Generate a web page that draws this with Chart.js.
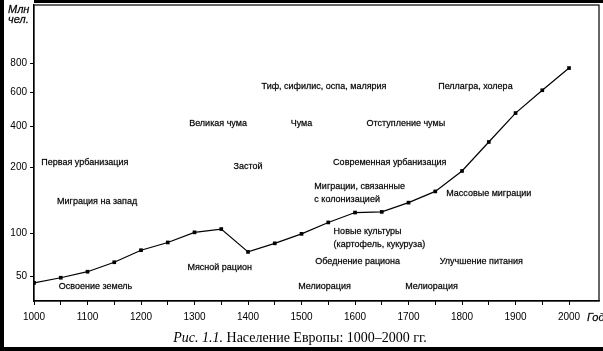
<!DOCTYPE html>
<html>
<head>
<meta charset="utf-8">
<script src="https://cdn.jsdelivr.net/npm/chart.js@4.4.0/dist/chart.umd.min.js"></script>
<style>
  html, body { margin: 0; padding: 0; background: #fff; }
  #wrap { position: relative; width: 603px; height: 351px; }
</style>
</head>
<body>
<div id="wrap"><canvas id="chart" width="603" height="351"></canvas></div>
<script>
// население Европы, млн чел.
var years = [1000, 1050, 1100, 1150, 1200, 1250, 1300, 1350, 1400, 1450, 1500,
             1550, 1600, 1650, 1700, 1750, 1800, 1850, 1900, 1950, 2000];
var population = [42, 48, 55, 66, 80, 89, 101, 106, 78, 88, 99,
                  116, 131, 132, 146, 163, 194, 322, 476, 612, 765];

// подписи оси Y и их место на неравномерной шкале
var yTicks = [50, 100, 200, 400, 600, 800];
var yTickPos = [25, 68, 134, 175, 209, 238];
var xTicks = [];
for (var t = 1000; t <= 2000; t += 50) xTicks.push(t);

// подписи на поле графика: текст, год, значение, выравнивание
var notes = [
  ["Первая урбанизация", 1095, 220, "center"],
  ["Миграция на запад", 1118, 148, "center"],
  ["Освоение земель", 1115, 38, "center"],
  ["Великая чума", 1344, 412, "center"],
  ["Тиф, сифилис, оспа, малярия", 1542, 635, "center"],
  ["Чума", 1500, 412, "center"],
  ["Отступление чумы", 1695, 412, "center"],
  ["Застой", 1400, 200, "center"],
  ["Современная урбанизация", 1665, 220, "center"],
  ["Мясной рацион", 1347, 60, "center"],
  ["Миграции, связанные\nс колонизацией", 1524, 161, "left"],
  ["Новые культуры\n(картофель, кукуруза)", 1560, 94, "left"],
  ["Обеднение рациона", 1605, 67, "center"],
  ["Мелиорация", 1543, 38, "center"],
  ["Мелиорация", 1743, 38, "center"],
  ["Массовые миграции", 1850, 160, "center"],
  ["Улучшение питания", 1836, 67, "center"],
  ["Пеллагра, холера", 1825, 635, "center"]
];

function tr(v) {
  var n = yTicks.length;
  var i = 0;
  if (v <= yTicks[0]) i = 0;
  else if (v >= yTicks[n - 1]) i = n - 2;
  else while (v > yTicks[i + 1]) i++;
  var k = (yTickPos[i + 1] - yTickPos[i]) / (yTicks[i + 1] - yTicks[i]);
  return yTickPos[i] + (v - yTicks[i]) * k;
}

var points = years.map(function (y, i) { return { x: y, y: tr(population[i]) }; });

function boldText(c, s, x, y) {
  c.fillText(s, x, y);
  c.strokeText(s, x, y);
}

var decor = {
  id: 'decor',
  beforeDraw: function (chart) {
    var c = chart.ctx;
    c.save();
    c.fillStyle = '#fff';
    c.fillRect(0, 0, 603, 351);
    c.restore();
  },
  afterDraw: function (chart) {
    var c = chart.ctx, a = chart.chartArea;
    var xs = chart.scales.x, ys = chart.scales.y;
    c.save();
    // рамка
    c.strokeStyle = '#000';
    c.lineWidth = 1.2;
    c.strokeRect(a.left, a.top, a.right - a.left, a.bottom - a.top);
    // черные края скана
    c.fillStyle = '#000';
    c.fillRect(0, 0, 4, 351);
    c.fillRect(34, 0, 569, 3);
    c.fillRect(0, 347, 603, 4);

    c.fillStyle = '#000';
    c.strokeStyle = 'rgba(0,0,0,0.6)';
    c.lineWidth = 0.35;
    c.font = '9px "Liberation Sans", Arial, sans-serif';
    c.textBaseline = 'middle';
    notes.forEach(function (n) {
      var lines = n[0].split('\n');
      var px = xs.getPixelForValue(n[1]);
      var py = ys.getPixelForValue(tr(n[2]));
      c.textAlign = n[3];
      var y0 = py - (lines.length - 1) * 6.5;
      lines.forEach(function (l, j) { boldText(c, l, px, y0 + j * 13); });
    });

    // подписи осей
    c.font = 'italic 11px "Liberation Sans Narrow", "Liberation Sans", sans-serif';
    c.textAlign = 'left';
    boldText(c, 'Млн', 8, 10);
    boldText(c, 'чел.', 8, 20);
    boldText(c, 'Год', 587, 318);

    // подпись рисунка
    var cap1 = 'Рис. 1.1.', cap2 = ' Население Европы: 1000–2000 гг.';
    var fi = 'italic 14px "Liberation Serif", "Times New Roman", serif';
    var fr = '14px "Liberation Serif", "Times New Roman", serif';
    c.font = fi;
    var w1 = c.measureText(cap1).width;
    c.font = fr;
    var w2 = c.measureText(cap2).width;
    var sx = 300 - (w1 + w2) / 2;
    c.font = fi;
    c.fillText(cap1, sx, 338);
    c.font = fr;
    c.fillText(cap2, sx + w1, 338);
    c.restore();
  }
};

new Chart(document.getElementById('chart'), {
  type: 'line',
  data: {
    datasets: [{
      data: points,
      borderColor: '#000',
      borderWidth: 1.2,
      backgroundColor: '#000',
      pointStyle: 'rect',
      pointRadius: 2.6,
      pointBorderWidth: 0,
      tension: 0
    }]
  },
  options: {
    responsive: false,
    animation: false,
    layout: { padding: { top: 5, right: 3, left: 0, bottom: 0 } },
    plugins: { legend: { display: false }, tooltip: { enabled: false } },
    scales: {
      x: {
        type: 'linear',
        min: 1000,
        max: 2056,
        afterBuildTicks: function (s) { s.ticks = xTicks.map(function (v) { return { value: v }; }); },
        afterFit: function (s) { s.height = 50; s.paddingLeft = 0; s.paddingRight = 0; },
        grid: { drawOnChartArea: false, tickLength: 4, tickColor: '#000', tickWidth: 1 },
        border: { color: '#000', width: 1.2 },
        ticks: {
          autoSkip: false, maxRotation: 0, padding: 6, color: '#000',
          font: { family: '"Liberation Sans", Arial, sans-serif', size: 10 },
          callback: function (v) { return v % 100 === 0 ? String(v) : ''; }
        }
      },
      y: {
        type: 'linear',
        min: 0,
        max: 296,
        afterBuildTicks: function (s) { s.ticks = yTicks.map(function (v) { return { value: tr(v) }; }); },
        afterFit: function (s) { s.width = 34; s.paddingTop = 0; s.paddingBottom = 0; },
        grid: { drawOnChartArea: false, tickLength: 4, tickColor: '#000', tickWidth: 1 },
        border: { color: '#000', width: 1.2 },
        ticks: {
          padding: 3, color: '#000',
          font: { family: '"Liberation Sans", Arial, sans-serif', size: 10 },
          callback: function (v, i) { return String(yTicks[i]); }
        }
      }
    }
  },
  plugins: [decor]
});
</script>
</body>
</html>
